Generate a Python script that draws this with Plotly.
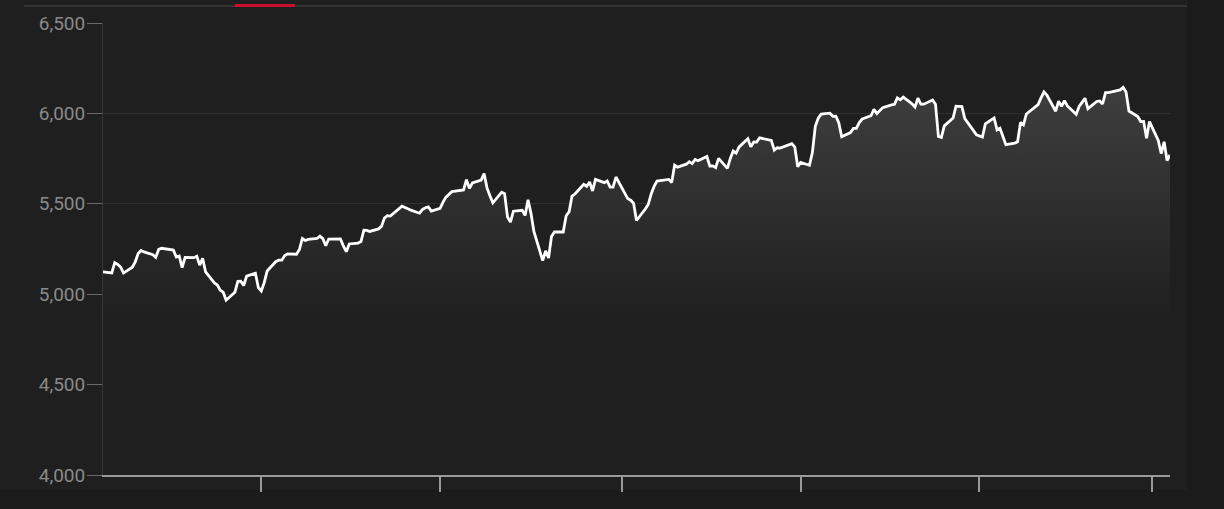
import plotly.graph_objects as go

dates = [
"2024-03-08","2024-03-11","2024-03-12","2024-03-13","2024-03-14","2024-03-15","2024-03-18","2024-03-19","2024-03-20","2024-03-21","2024-03-22","2024-03-25","2024-03-26","2024-03-27","2024-03-28",
"2024-04-01","2024-04-02","2024-04-03","2024-04-04","2024-04-05","2024-04-08","2024-04-09","2024-04-10","2024-04-11","2024-04-12","2024-04-15","2024-04-16","2024-04-17","2024-04-18","2024-04-19","2024-04-22","2024-04-23","2024-04-24","2024-04-25","2024-04-26","2024-04-29","2024-04-30",
"2024-05-01","2024-05-02","2024-05-03","2024-05-06","2024-05-07","2024-05-08","2024-05-09","2024-05-10","2024-05-13","2024-05-14","2024-05-15","2024-05-16","2024-05-17","2024-05-20","2024-05-21","2024-05-22","2024-05-23","2024-05-24","2024-05-28","2024-05-29","2024-05-30","2024-05-31",
"2024-06-03","2024-06-04","2024-06-05","2024-06-06","2024-06-07","2024-06-10","2024-06-11","2024-06-12","2024-06-13","2024-06-14","2024-06-17","2024-06-18","2024-06-20","2024-06-21","2024-06-24","2024-06-25","2024-06-26","2024-06-27","2024-06-28",
"2024-07-01","2024-07-02","2024-07-03","2024-07-05","2024-07-08","2024-07-09","2024-07-10","2024-07-11","2024-07-12","2024-07-15","2024-07-16","2024-07-17","2024-07-18","2024-07-19","2024-07-22","2024-07-23","2024-07-24","2024-07-25","2024-07-26","2024-07-29","2024-07-30","2024-07-31",
"2024-08-01","2024-08-02","2024-08-05","2024-08-06","2024-08-07","2024-08-08","2024-08-09","2024-08-12","2024-08-13","2024-08-14","2024-08-15","2024-08-16","2024-08-19","2024-08-20","2024-08-21","2024-08-22","2024-08-23","2024-08-26","2024-08-27","2024-08-28","2024-08-29","2024-08-30",
"2024-09-03","2024-09-04","2024-09-05","2024-09-06","2024-09-09","2024-09-10","2024-09-11","2024-09-12","2024-09-13","2024-09-16","2024-09-17","2024-09-18","2024-09-19","2024-09-20","2024-09-23","2024-09-24","2024-09-25","2024-09-26","2024-09-27","2024-09-30",
"2024-10-01","2024-10-02","2024-10-03","2024-10-04","2024-10-07","2024-10-08","2024-10-09","2024-10-10","2024-10-11","2024-10-14","2024-10-15","2024-10-16","2024-10-17","2024-10-18","2024-10-21","2024-10-22","2024-10-23","2024-10-24","2024-10-25","2024-10-28","2024-10-29","2024-10-30","2024-10-31",
"2024-11-01","2024-11-04","2024-11-05","2024-11-06","2024-11-07","2024-11-08","2024-11-11","2024-11-12","2024-11-13","2024-11-14","2024-11-15","2024-11-18","2024-11-19","2024-11-20","2024-11-21","2024-11-22","2024-11-25","2024-11-26","2024-11-27","2024-11-29",
"2024-12-02","2024-12-03","2024-12-04","2024-12-05","2024-12-06","2024-12-09","2024-12-10","2024-12-11","2024-12-12","2024-12-13","2024-12-16","2024-12-17","2024-12-18","2024-12-19","2024-12-20","2024-12-23","2024-12-24","2024-12-26","2024-12-27","2024-12-30","2024-12-31",
"2025-01-02","2025-01-03","2025-01-06","2025-01-07","2025-01-08","2025-01-10","2025-01-13","2025-01-14","2025-01-15","2025-01-16","2025-01-17","2025-01-21","2025-01-22","2025-01-23","2025-01-24","2025-01-27","2025-01-28","2025-01-29","2025-01-30","2025-01-31",
"2025-02-03","2025-02-04","2025-02-05","2025-02-06","2025-02-07","2025-02-10","2025-02-11","2025-02-12","2025-02-13","2025-02-14","2025-02-18","2025-02-19","2025-02-20","2025-02-21","2025-02-24","2025-02-25","2025-02-26","2025-02-27","2025-02-28",
"2025-03-03","2025-03-04","2025-03-05","2025-03-06","2025-03-07",
]

values = [
5124,5118,5175,5165,5150,5117,5149,5179,5225,5242,5234,5218,5204,5248,5254,
5244,5206,5211,5147,5204,5202,5210,5161,5199,5123,5062,5051,5022,5011,4967,5011,5071,5072,5048,5100,5116,5036,
5018,5064,5128,5181,5188,5188,5214,5223,5221,5247,5308,5297,5303,5308,5321,5307,5268,5305,5306,5267,5235,5278,
5283,5291,5354,5353,5347,5361,5375,5421,5434,5432,5473,5487,5473,5465,5448,5469,5478,5483,5460,
5475,5509,5537,5567,5573,5577,5634,5585,5615,5631,5667,5588,5545,5505,5564,5556,5427,5399,5459,5464,5436,5522,
5447,5347,5186,5240,5200,5319,5344,5344,5434,5455,5543,5554,5608,5597,5621,5571,5635,5617,5626,5592,5592,5648,
5529,5520,5503,5408,5471,5496,5554,5596,5626,5633,5635,5618,5714,5703,5719,5733,5722,5745,5738,5762,
5709,5710,5700,5751,5696,5751,5792,5780,5815,5860,5815,5842,5841,5865,5854,5851,5797,5810,5808,5824,5833,5814,5705,
5729,5713,5783,5929,5973,5996,6001,5984,5985,5949,5871,5894,5917,5917,5949,5969,5987,6022,5999,6032,
6047,6050,6086,6075,6090,6053,6035,6084,6051,6051,6074,6051,5872,5867,5931,5974,6040,6038,5971,5907,5882,
5869,5942,5975,5909,5918,5827,5836,5843,5950,5937,5997,6049,6086,6119,6101,6012,6068,6039,6071,6041,
5995,6038,6061,6084,6026,6066,6069,6052,6115,6115,6130,6144,6118,6013,5983,5955,5956,5862,5955,
5850,5778,5843,5739,5770,
]

y_ticks = [4000, 4500, 5000, 5500, 6000, 6500]
y_tick_labels = ["4,000", "4,500", "5,000", "5,500", "6,000", "6,500"]
x_ticks = ["2024-05-01", "2024-07-01", "2024-09-01", "2024-11-01", "2025-01-01", "2025-03-01"]

fig = go.Figure()
fig.add_trace(go.Scatter(
    x=dates, y=values, mode="lines",
    line=dict(color="#ffffff", width=2.8),
    fill="tozeroy",
    fillgradient=dict(type="vertical", start=4850, stop=6150,
                      colorscale=[[0, "#1f1f1f"], [1, "#3e3e3e"]]),
    hoverinfo="x+y", showlegend=False,
))

W, H = 1224, 509
L, R, T, B = 103, 54, 23, 34
pw, ph = W - L - R, H - T - B

def px_x(p):
    return (p - L) / pw

def px_y(q):
    return (H - B - q) / ph

shapes = [
    # panel background
    dict(type="rect", xref="paper", yref="paper", layer="below",
         x0=px_x(0), x1=px_x(1187), y0=px_y(490), y1=px_y(0),
         fillcolor="#1f1f1f", line=dict(width=0)),
    # top rule
    dict(type="line", xref="paper", yref="paper", layer="above",
         x0=px_x(24), x1=px_x(1187), y0=px_y(6), y1=px_y(6),
         line=dict(color="#4a4a4a", width=1)),
    dict(type="line", xref="paper", yref="paper", layer="above",
         x0=px_x(235), x1=px_x(295), y0=px_y(5.5), y1=px_y(5.5),
         line=dict(color="#c8102e", width=3)),
]

fig.update_layout(
    width=W, height=H,
    margin=dict(l=L, r=R, t=T, b=B, autoexpand=False),
    paper_bgcolor="#1b1b1b",
    plot_bgcolor="rgba(0,0,0,0)",
    font=dict(family="Roboto, sans-serif", color="#8a8a8a"),
    shapes=shapes,
    showlegend=False,
    xaxis=dict(
        type="date",
        range=["2024-03-08", "2025-03-07"],
        tickvals=x_ticks,
        showticklabels=False,
        ticks="outside", ticklen=15, tickwidth=1.5, tickcolor="#9a9a9a",
        showgrid=False, zeroline=False,
        showline=True, linecolor="#9a9a9a", linewidth=1.5,
        automargin=False,
    ),
    yaxis=dict(
        range=[4000, 6500],
        tickvals=y_ticks, ticktext=y_tick_labels,
        tickfont=dict(size=19, color="#8a8a8a", family="Roboto, sans-serif"),
        ticks="outside", ticklen=15, tickwidth=1, tickcolor="#6a6a6a",
        ticklabelstandoff=-2,
        showgrid=True, gridcolor="#313131", gridwidth=1,
        zeroline=False,
        showline=True, linecolor="#363636", linewidth=1,
        automargin=False,
    ),
)

fig.write_html(
    "out.html",
    config={"displayModeBar": False},
    post_script="document.body.style.margin='0';document.body.style.background='#1b1b1b';document.documentElement.style.background='#1b1b1b';",
)
